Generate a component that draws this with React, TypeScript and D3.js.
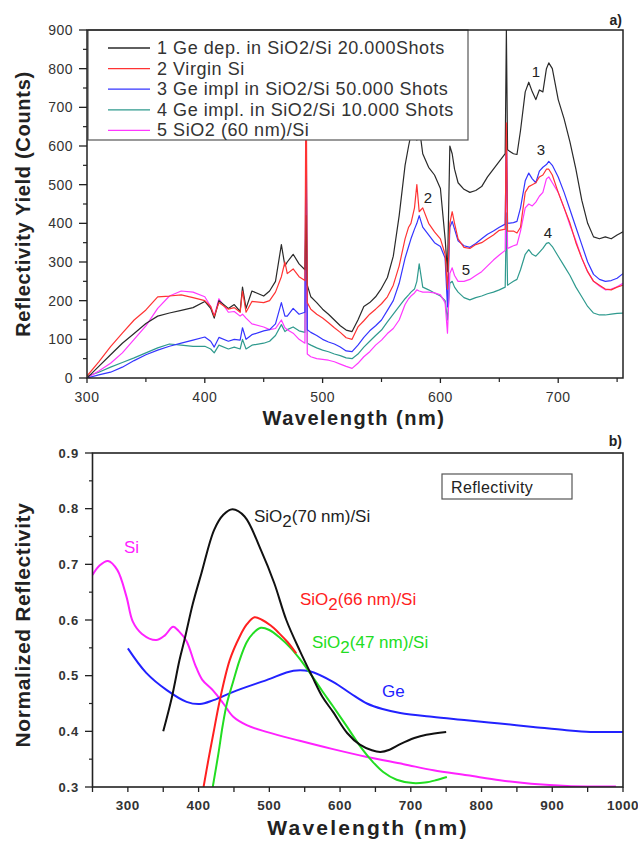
import * as d3 from "d3";

const FONT = "'Liberation Sans', Arial, sans-serif";

// ---- panel a) spectra (counts vs wavelength, nm)
const WL = [
  300, 310, 320, 330, 340, 350, 360, 370, 380, 390,
  400, 405, 408, 412, 420, 425, 430, 432, 435, 440,
  450, 455, 460, 465, 468, 470, 475, 480, 485, 486,
  487, 490, 495, 500, 505, 510, 515, 520, 525, 530,
  535, 540, 545, 550, 555, 560, 565, 570, 573, 575,
  578, 580, 582, 585, 590, 595, 600, 604, 606, 608,
  610, 612, 615, 620, 625, 630, 635, 640, 645, 650,
  655, 656, 657, 662, 665, 668, 672, 675, 678, 681,
  684, 687, 690, 692, 695, 700, 705, 710, 715, 720,
  725, 730, 735, 740, 745, 750, 755,
];

const GE_DEP_20K = [
  0, 30, 60, 90, 115, 141, 160, 168, 175, 182,
  198, 180, 155, 200, 180, 190, 172, 235, 180, 225,
  212, 225, 250, 345, 290, 300, 320, 295, 280, 420,
  240, 210, 195, 178, 165, 150, 135, 124, 120, 150,
  185, 195, 210, 232, 260, 315, 420, 550, 600, 630,
  650, 615, 650, 580, 545, 525, 490, 360, 275, 600,
  580, 540, 505, 488, 480, 485, 495, 520, 540, 560,
  580, 900, 590, 580, 578, 640, 740, 765, 740, 720,
  745, 740, 800, 815, 800, 720, 670, 610, 540, 460,
  400, 365, 360, 365, 360, 370, 378,
];

const VIRGIN_SI = [
  5, 42, 81, 116, 150, 176, 210, 212, 215, 208,
  200, 185, 160, 195, 178, 182, 170, 225, 170, 198,
  195, 200, 222, 262, 300, 270, 282, 262, 252, 850,
  195, 178, 165, 155, 143, 130, 118, 104, 100, 132,
  148, 165, 178, 192, 210, 240, 290, 360, 390, 400,
  440, 500, 430, 440, 400, 378, 360, 320, 230, 400,
  430, 400, 360, 338, 335, 345, 350, 360, 370, 382,
  385, 660, 380, 380, 375, 390, 480, 495, 500, 505,
  520, 525, 540, 540, 525, 480, 440, 400, 350, 310,
  275, 250, 240, 230, 228, 235, 240,
];

const GE_IMPL_50K = [
  0, 8, 15, 28, 45, 60, 72, 82, 90, 98,
  106, 95, 80, 105, 95, 100, 98, 130, 100, 112,
  122, 125, 140, 195, 160, 160, 180, 165, 170, 700,
  125, 118, 110, 100, 93, 88, 80, 70, 68, 85,
  105, 122, 135, 150, 175, 200, 245, 310, 340, 360,
  385, 400, 420, 390, 370, 350, 340, 310, 184, 390,
  405, 385, 355, 342, 338, 348, 360, 372, 380, 390,
  398, 650, 400, 402, 405, 440, 510, 530, 515, 505,
  535, 545, 552, 560, 550, 520, 480, 435, 390, 345,
  300, 268, 255, 250, 252, 258, 270,
];

const GE_IMPL_10K = [
  5, 15, 28, 40, 52, 65, 78, 88, 85, 82,
  82, 75, 65, 85, 75, 80, 75, 100, 75, 85,
  90, 95, 110, 138, 120, 125, 132, 122, 118, 600,
  90, 85, 78, 72, 68, 62, 58, 52, 50, 62,
  80, 95, 110, 124, 145, 165, 185, 205, 215, 222,
  230, 250, 295, 235, 228, 220, 212, 200, 150, 245,
  250, 235, 222, 208, 202, 208, 212, 218, 222, 228,
  235, 427, 240, 250, 255, 280, 320, 332, 320, 315,
  325, 335, 348, 350, 340, 315, 290, 265, 235, 210,
  185, 168, 163, 163, 165, 167, 168,
];

const SIO2_60 = [
  0, 18, 38, 65, 100, 135, 180, 212, 225, 222,
  210, 185, 160, 205, 170, 172, 160, 165, 155, 140,
  132, 125, 128, 150, 130, 125, 116, 100, 90, 640,
  62, 55, 50, 48, 46, 42, 36, 30, 25, 38,
  55, 68, 85, 98, 115, 128, 150, 190, 205, 212,
  220, 228, 225, 222, 222, 220, 215, 195, 116, 270,
  285, 265, 250, 250, 255, 265, 275, 290, 305, 318,
  330, 640, 335, 342, 345, 380, 440, 450, 445, 455,
  470, 480, 515, 520, 505, 480, 440, 395, 355, 310,
  275, 250, 238, 228, 230, 236, 245,
];

const LEGEND_A = [
  "1 Ge dep. in SiO2/Si 20.000Shots",
  "2 Virgin Si",
  "3 Ge impl in SiO2/Si 50.000 Shots",
  "4 Ge impl. in SiO2/Si 10.000 Shots",
  "5 SiO2 (60 nm)/Si",
];
const COLORS_A = ["#2a2a2a", "#ff3333", "#3535ff", "#2f9a8e", "#ff38ff"];
const SERIES_A = [GE_DEP_20K, VIRGIN_SI, GE_IMPL_50K, GE_IMPL_10K, SIO2_60];
const DRAW_ORDER_A = [3, 4, 2, 0, 1];

const Y_TICKS_A = [0, 100, 200, 300, 400, 500, 600, 700, 800, 900];
const X_TICKS_A = [300, 400, 500, 600, 700];

// ---- panel b) normalized reflectivity, [wavelength nm, value]
const SI_CURVE = [
  [250, 0.681], [260, 0.698], [272, 0.706], [285, 0.69], [298, 0.642], [307, 0.597],
  [320, 0.575], [340, 0.564], [352, 0.572], [364, 0.588], [372, 0.58], [383, 0.562],
  [395, 0.52], [405, 0.493], [420, 0.474], [435, 0.45], [449, 0.426], [468, 0.411],
  [496, 0.399], [543, 0.383], [590, 0.368], [638, 0.354], [690, 0.341], [732, 0.33],
  [780, 0.321], [826, 0.312], [870, 0.306], [921, 0.302], [990, 0.301],
];
const GE_CURVE = [
  [300, 0.549], [326, 0.505], [355, 0.474], [383, 0.453], [402, 0.449], [421, 0.456],
  [449, 0.471], [496, 0.492], [534, 0.509], [557, 0.508], [590, 0.489], [615, 0.468],
  [638, 0.45], [660, 0.44], [685, 0.433], [730, 0.426], [779, 0.42], [826, 0.414],
  [873, 0.408], [920, 0.402], [954, 0.399], [1000, 0.399],
];
const SIO2_70_CURVE = [
  [350, 0.4], [362, 0.46], [373, 0.528], [380, 0.564], [392, 0.63], [404, 0.684],
  [422, 0.762], [435, 0.789], [448, 0.799], [465, 0.786], [488, 0.726], [507, 0.666],
  [524, 0.6], [543, 0.545], [560, 0.5], [575, 0.462], [590, 0.435], [610, 0.397],
  [628, 0.376], [645, 0.366], [657, 0.363], [670, 0.367], [685, 0.377], [705, 0.388],
  [722, 0.394], [750, 0.399],
];
const SIO2_66_CURVE = [
  [407, 0.3], [414, 0.35], [421, 0.397], [430, 0.456], [444, 0.528], [458, 0.57],
  [468, 0.592], [479, 0.605], [490, 0.6], [502, 0.59], [514, 0.576], [526, 0.56],
  [538, 0.54],
];
const SIO2_47_CURVE = [
  [420, 0.3], [428, 0.36], [434, 0.41], [440, 0.45], [449, 0.49], [458, 0.528],
  [468, 0.56], [477, 0.576], [488, 0.586], [500, 0.582], [515, 0.568], [530, 0.55],
  [543, 0.53], [560, 0.5], [575, 0.472], [590, 0.445], [610, 0.408], [628, 0.374],
  [645, 0.347], [661, 0.327], [680, 0.313], [703, 0.307], [720, 0.308], [735, 0.312],
  [751, 0.318],
];

const Y_TICKS_B = [0.3, 0.4, 0.5, 0.6, 0.7, 0.8, 0.9];
const X_TICKS_B = [300, 400, 500, 600, 700, 800, 900, 1000];

export default function App() {
  // panel a scales
  const xA = d3.scaleLinear().domain([300, 755]).range([87, 623]);
  const yA = d3.scaleLinear().domain([0, 900]).range([378, 30]);
  const lineA = d3
    .line<number>()
    .x((_, i) => xA(WL[i]))
    .y((d) => yA(d));

  // panel b scales
  const xB = d3.scaleLinear().domain([250, 1000]).range([92.5, 623]);
  const yB = d3.scaleLinear().domain([0.3, 0.9]).range([787, 453]);
  const lineB = d3
    .line<number[]>()
    .x((d) => xB(d[0]))
    .y((d) => yB(d[1]))
    .curve(d3.curveCatmullRom.alpha(0.5));

  const minorYA = d3.range(50, 900, 100);
  const minorXA = d3.range(350, 760, 50).filter((v) => v % 100 !== 0);
  const minorYB = d3.range(0.35, 0.9, 0.1);
  const allXB = d3.range(250, 1001, 50);

  const tickFill = "#333";

  return (
    <div style={{ position: "absolute", left: 0, top: 0 }}>
      <svg width={638} height={842} style={{ display: "block", background: "#fff" }} fontFamily={FONT}>
        <defs>
          <clipPath id="clipA">
            <rect x={87} y={30} width={536} height={348} />
          </clipPath>
          <clipPath id="clipB">
            <rect x={92.5} y={453} width={530.5} height={334} />
          </clipPath>
        </defs>

        {/* ================= panel a ================= */}
        <g clipPath="url(#clipA)">
          {DRAW_ORDER_A.map((k) => (
            <path
              key={k}
              d={lineA(SERIES_A[k]) || ""}
              fill="none"
              stroke={COLORS_A[k]}
              strokeWidth={1.2}
              strokeLinejoin="round"
            />
          ))}
        </g>

        {/* legend */}
        <rect x={88} y={30} width={380} height={110} fill="#fff" stroke="#555" strokeWidth={1.2} />
        {LEGEND_A.map((t, i) => {
          const base = 54 + i * 20.6;
          return (
            <g key={t}>
              <line x1={108} x2={150} y1={base - 6} y2={base - 6} stroke={COLORS_A[i]} strokeWidth={1.3} />
              <text x={157} y={base} fontSize={18} letterSpacing={0.55} fill="#333">
                {t}
              </text>
            </g>
          );
        })}

        {/* frame */}
        <rect x={87} y={30} width={536} height={348} fill="none" stroke="#222" strokeWidth={1.5} />

        {/* y axis ticks a */}
        {Y_TICKS_A.map((v) => (
          <g key={v}>
            <line x1={79} x2={87} y1={yA(v)} y2={yA(v)} stroke="#222" strokeWidth={1.3} />
            <text x={73} y={yA(v) + 5} fontSize={14} letterSpacing={0.5} textAnchor="end" fill={tickFill}>
              {v}
            </text>
          </g>
        ))}
        {minorYA.map((v) => (
          <line key={v} x1={83} x2={87} y1={yA(v)} y2={yA(v)} stroke="#222" strokeWidth={1.2} />
        ))}
        {/* x axis ticks a */}
        {X_TICKS_A.map((v) => (
          <g key={v}>
            <line x1={xA(v)} x2={xA(v)} y1={378} y2={383} stroke="#222" strokeWidth={1.3} />
            <text x={xA(v)} y={402} fontSize={14} letterSpacing={0.5} textAnchor="middle" fill={tickFill}>
              {v}
            </text>
          </g>
        ))}
        {minorXA.map((v) => (
          <line key={v} x1={xA(v)} x2={xA(v)} y1={378} y2={382} stroke="#222" strokeWidth={1.2} />
        ))}

        <text x={354} y={425} fontSize={20} fontWeight="bold" letterSpacing={1.5} textAnchor="middle" fill="#222">
          Wavelength (nm)
        </text>
        <text
          transform={`translate(30,${(30 + 378) / 2}) rotate(-90)`}
          fontSize={20}
          fontWeight="bold"
          letterSpacing={0.7}
          textAnchor="middle"
          fill="#222"
        >
          Reflectivity Yield (Counts)
        </text>
        <text x={622} y={25} fontSize={14} fontWeight="bold" textAnchor="end" fill="#222">
          a)
        </text>

        {/* curve numbers */}
        <g fontSize={15} fill="#222" textAnchor="middle">
          <text x={536} y={77}>1</text>
          <text x={428} y={203}>2</text>
          <text x={541} y={155}>3</text>
          <text x={548} y={238}>4</text>
          <text x={466} y={275}>5</text>
        </g>

        {/* ================= panel b ================= */}
        <g clipPath="url(#clipB)" fill="none" strokeWidth={2}>
          <path d={lineB(SI_CURVE) || ""} stroke="#ff22ff" />
          <path d={lineB(GE_CURVE) || ""} stroke="#2222ff" />
          <path d={lineB(SIO2_47_CURVE) || ""} stroke="#22dd22" />
          <path d={lineB(SIO2_66_CURVE) || ""} stroke="#ff2020" />
          <path d={lineB(SIO2_70_CURVE) || ""} stroke="#111" />
        </g>

        <rect x={92.5} y={453} width={530.5} height={334} fill="none" stroke="#222" strokeWidth={1.6} />

        {Y_TICKS_B.map((v) => (
          <g key={v}>
            <line x1={85} x2={92.5} y1={yB(v)} y2={yB(v)} stroke="#222" strokeWidth={1.3} />
            <text x={79} y={yB(v) + 4.5} fontSize={13} fontWeight="bold" letterSpacing={0.8} textAnchor="end" fill={tickFill}>
              {v.toFixed(1)}
            </text>
          </g>
        ))}
        {minorYB.map((v) => (
          <line key={v} x1={89} x2={92.5} y1={yB(v)} y2={yB(v)} stroke="#222" strokeWidth={1.2} />
        ))}
        {allXB.map((v) => (
          <line key={v} x1={xB(v)} x2={xB(v)} y1={787} y2={792} stroke="#222" strokeWidth={1.3} />
        ))}
        {X_TICKS_B.map((v) => (
          <text key={v} x={xB(v)} y={810} fontSize={13.5} fontWeight="bold" letterSpacing={0.5} textAnchor="middle" fill={tickFill}>
            {v}
          </text>
        ))}

        <text x={368} y={835} fontSize={21} fontWeight="bold" letterSpacing={2.2} textAnchor="middle" fill="#222">
          Wavelength (nm)
        </text>
        <text
          transform={`translate(30,${(453 + 787) / 2 + 5}) rotate(-90)`}
          fontSize={21}
          fontWeight="bold"
          letterSpacing={0.6}
          textAnchor="middle"
          fill="#222"
        >
          Normalized Reflectivity
        </text>
        <text x={622} y={446} fontSize={14} fontWeight="bold" textAnchor="end" fill="#222">
          b)
        </text>

        {/* legend box */}
        <rect x={442} y={474} width={130} height={25} fill="#fff" stroke="#555" strokeWidth={1.2} />
        <text x={451} y={493} fontSize={16} letterSpacing={0.4} fill="#222">
          Reflectivity
        </text>

        {/* curve labels */}
        <g fontSize={17}>
          <text x={254} y={522} fill="#222">
            SiO<tspan dy={5}>2</tspan>
            <tspan dy={-5}>(70 nm)/Si</tspan>
          </text>
          <text x={300} y={605} fill="#ff2020">
            SiO<tspan dy={5}>2</tspan>
            <tspan dy={-5}>(66 nm)/Si</tspan>
          </text>
          <text x={312} y={648} fill="#22dd22">
            SiO<tspan dy={5}>2</tspan>
            <tspan dy={-5}>(47 nm)/Si</tspan>
          </text>
          <text x={382} y={697} fill="#2222ff">Ge</text>
          <text x={124} y={553} fill="#ff22ff">Si</text>
        </g>
      </svg>
    </div>
  );
}
